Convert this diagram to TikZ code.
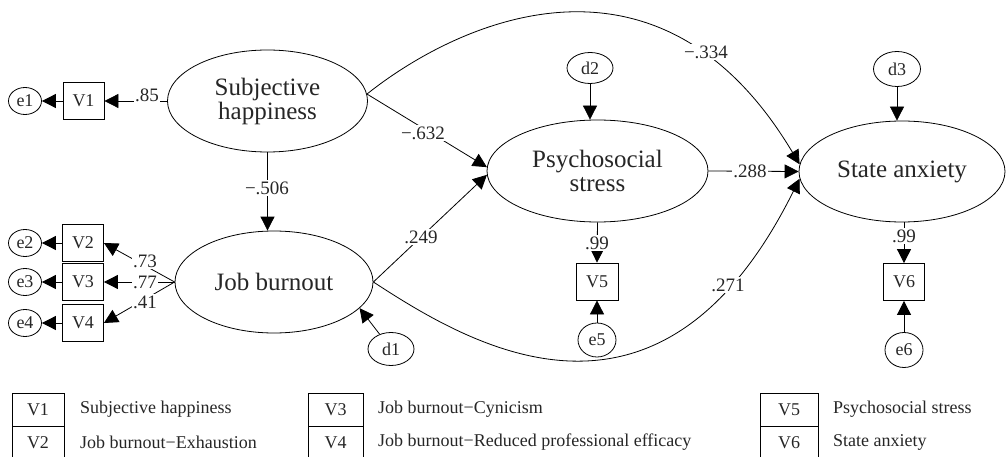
\documentclass[tikz,border=0pt]{standalone}
\usepackage{fontspec}
\setmainfont{Liberation Serif}
\usetikzlibrary{shapes.geometric,arrows.meta}
\begin{document}
\begin{tikzpicture}[x=1pt,y=-1pt,
  lat/.style={draw,ellipse,line width=0.8pt,inner sep=0pt,font=\fontsize{25}{24}\selectfont,align=center,text=black!85},
  obs/.style={draw,rectangle,line width=0.8pt,inner sep=0pt,minimum width=41pt,minimum height=37pt,font=\fontsize{18}{20}\selectfont,text=black!85},
  err/.style={draw,ellipse,line width=0.8pt,inner sep=0pt,font=\fontsize{18}{20}\selectfont,text=black!85},
  arr/.style={line width=0.8pt,-{Triangle[length=14pt,width=14pt]}},
  lbl/.style={fill=white,inner sep=1.5pt,font=\fontsize{19}{20}\selectfont,text=black!85},
  leg/.style={draw,rectangle,line width=0.8pt,inner sep=0pt,minimum height=33pt,font=\fontsize{18}{20}\selectfont,text=black!85},
  legt/.style={anchor=west,inner sep=0pt,font=\fontsize{18}{20}\selectfont,text=black!85}
]
\useasboundingbox (0,0) rectangle (1006,457);

% latent variables
\node[lat,minimum width=200pt,minimum height=102pt] (SH) at (267.5,101) {Subjective\\happiness};
\node[lat,minimum width=198pt,minimum height=102pt] (JB) at (274,282) {Job burnout};
\node[lat,minimum width=221pt,minimum height=102pt] (PS) at (597.5,171) {Psychosocial\\stress};
\node[lat,minimum width=206pt,minimum height=101pt] (SA) at (902,171.5) {State anxiety};

% observed variables
\node[obs] (V1) at (83.5,101) {V1};
\node[obs] (V2) at (83,243) {V2};
\node[obs] (V3) at (83,282) {V3};
\node[obs] (V4) at (83,323) {V4};
\node[obs,minimum width=42pt] (V5) at (597,281.5) {V5};
\node[obs] (V6) at (904,282) {V6};

% errors and disturbances
\node[err,minimum width=33pt,minimum height=27pt] (e1) at (25,101) {e1};
\node[err,minimum width=33pt,minimum height=27pt] (e2) at (25,243) {e2};
\node[err,minimum width=33pt,minimum height=27pt] (e3) at (25,282) {e3};
\node[err,minimum width=33pt,minimum height=27pt] (e4) at (25,323) {e4};
\node[err,minimum width=38pt,minimum height=34pt] (e5) at (597,340) {e5};
\node[err,minimum width=38pt,minimum height=35pt] (e6) at (904,350) {e6};
\node[err,minimum width=46pt,minimum height=33pt] (d1) at (391,349) {d1};
\node[err,minimum width=46pt,minimum height=31pt] (d2) at (590,68) {d2};
\node[err,minimum width=47pt,minimum height=35pt] (d3) at (897,69) {d3};

% measurement arrows
\draw[arr] (V1) -- (e1);
\draw[arr] (V2) -- (e2);
\draw[arr] (V3) -- (e3);
\draw[arr] (V4) -- (e4);
\draw[arr] (SH.west) -- (V1.east);
\draw[arr] (JB.west) -- (V2.east);
\draw[arr] (JB.west) -- (V3.east);
\draw[arr] (JB.west) -- (V4.east);
\draw[arr] (PS.south) -- (V5.north);
\draw[arr] (V6.north |- SA.south) -- (V6.north);
\draw[arr] (e5) -- (V5);
\draw[arr] (e6) -- (V6);

% disturbances
\draw[arr] (d1) -- (JB.-17);
\draw[arr] (d2) -- (d2.south |- PS.north);
\draw[arr] (d3) -- (d3.south |- SA.north);

% structural paths
\draw[arr] (SH.south) -- (SH.south |- JB.north);
\draw[arr] (SH.4) -- (PS.178);
\draw[arr] (JB.east) -- (PS.182);
\draw[arr] (SH.4) .. controls (460,20) and (660,-70) .. (SA.176);
\draw[arr] (PS.east) -- (SA.west);
\draw[arr] (JB.east) .. controls (470,345) and (660,460) .. (SA.184);

% labels
\node[lbl] (l1) at (147,95) {.85};
\node[lbl] (l2) at (145,261) {.73};
\node[lbl] (l3) at (145,282) {.77};
\node[lbl] (l4) at (145,302) {.41};
\node[lbl] (l5) at (267,188) {−.506};
\node[lbl] (l6) at (423,133) {−.632};
\node[lbl] (l7) at (421,237) {.249};
\node[lbl] (l8) at (706,52) {−.334};
\node[lbl] (l9) at (750,171) {.288};
\node[lbl] (l10) at (728,285) {.271};
\node[lbl] (l11) at (597,243) {.99};
\node[lbl] (l12) at (904,236) {.99};

% legend
\node[leg,minimum width=52pt] (L1) at (38,409.5) {V1};
\node[leg,minimum width=52pt] (L2) at (38,442.5) {V2};
\node[leg,minimum width=55pt] (L3) at (335.5,409.5) {V3};
\node[leg,minimum width=55pt] (L4) at (335.5,442.5) {V4};
\node[leg,minimum width=58pt] (L5) at (789,409.5) {V5};
\node[leg,minimum width=58pt] (L6) at (789,442.5) {V6};
\node[legt] (T1) at (80,409.5) {Subjective happiness};
\node[legt] (T2) at (80,442.5) {Job burnout−Exhaustion};
\node[legt] (T3) at (378,409.5) {Job burnout−Cynicism};
\node[legt] (T4) at (378,442.5) {Job burnout−Reduced professional efficacy};
\node[legt] (T5) at (833,409.5) {Psychosocial stress};
\node[legt] (T6) at (833,442.5) {State anxiety};
\end{tikzpicture}
\end{document}
